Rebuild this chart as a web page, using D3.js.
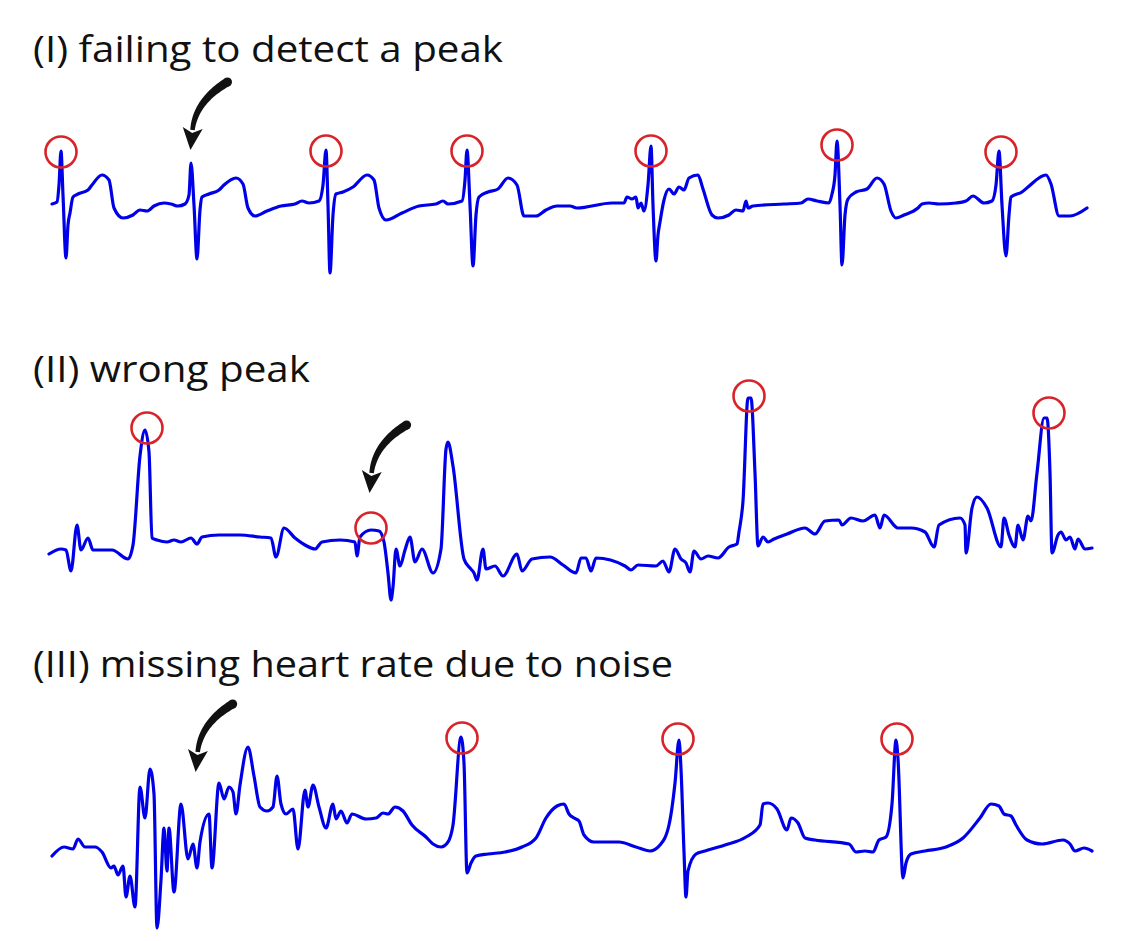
<!DOCTYPE html>
<html>
<head>
<meta charset="utf-8">
<script src="https://cdn.jsdelivr.net/npm/d3@7"></script>
<style>
  html, body { margin: 0; padding: 0; background: #ffffff; }
  svg { display: block; }
</style>
</head>
<body>
<svg id="chart" width="1130" height="941"></svg>
<script>
// ---------------- DATA ----------------
const titles = [
  "(I) failing to detect a peak",
  "(II) wrong peak",
  "(III) missing heart rate due to noise"
];

// Panel I: time (sample units) and amplitude
const ecgI_t = [52,57,59,61,63,66,68,70,73,78,88,92,102,109,114,123,133,140,147,154,164,171,178,185,189,191,194,197,200,202,209,219,224,236,243,248,255,267,281,295,302,309,319,323,326,328,330,333,336,343,353,367,374,379,386,402,419,436,443,448,462,465,467,470,473,476,479,488,498,508,517,524,536,546,557,570,577,612,624,627,632,636,638,641,644,648,651,653,656,658,660,664,669,674,679,684,689,698,703,712,718,729,736,743,746,748,753,784,801,808,817,829,832,835,837,840,842,845,848,856,867,877,884,891,896,904,918,922,929,939,956,966,973,984,992,996,999,1002,1006,1009,1011,1022,1028,1046,1051,1059,1070,1087];
const ecgI_v = [1,3,20,54,10,-53,-20,-8,8,11,15,20,30,25,-3,-13,-10,-5,-6,-1,2,1,-1,1,10,42,0,-54,-5,8,11,15,20,27,21,-3,-11,-6,-1,1,4,2,4,20,55,0,-68,-10,11,13,18,30,25,-3,-15,-8,-1,1,4,1,4,25,55,0,-61,-10,8,13,16,27,20,-11,-11,-5,-1,-1,-3,2,2,8,6,8,-3,2,-6,20,59,0,-56,-30,-17,5,16,11,18,15,27,30,16,-10,-13,-10,-5,-6,4,-3,-1,1,2,6,4,2,11,30,64,0,-60,-10,6,13,16,27,21,-6,-13,-10,-3,1,2,1,2,4,9,2,4,20,54,0,-51,-10,8,13,18,30,21,-11,-11,-3];
const peaksI_t = [61,326,467,651,837,1001];
const peaksI_v = [53,54,54,54,60,53];

// Panel II
const ecgII_t = [49,61,66,71,77,81,88,93,112,128,133,140,145,149,152,157,167,174,181,191,197,202,219,240,260,271,276,284,295,305,315,322,340,355,357,360,371,379,384,388,391,393,396,400,405,410,415,422,433,441,446,448,453,464,470,474,477,483,486,495,503,517,522,532,550,563,576,581,586,591,596,625,631,638,656,663,669,675,681,686,690,694,701,708,718,729,737,739,743,748,751,755,758,763,768,774,787,805,815,825,839,842,851,863,875,880,884,898,911,925,934,939,960,965,966,972,977,987,1001,1004,1009,1015,1018,1023,1028,1031,1037,1044,1047,1050,1052,1058,1061,1066,1070,1075,1078,1085,1092];
const ecgII_v = [-4,1,0,-21,25,0,12,0,0,-9,5,94,120,98,12,10,8,10,8,12,6,13,15,15,13,12,-7,22,12,5,1,8,10,8,-6,13,20,19,8,-23,-50,-37,1,-16,0,13,-12,1,-23,1,101,108,84,-9,-18,-23,-30,1,-19,-16,-26,-4,-21,-9,-7,-15,-23,-8,-8,-21,-8,-16,-20,-15,-16,-11,-22,1,-9,-13,-22,-1,-9,-6,-8,3,6,18,49,152,152,77,4,13,8,11,16,22,16,29,30,25,32,29,35,22,35,22,22,18,3,25,32,25,-3,42,53,42,3,32,15,3,25,10,34,29,77,132,132,77,-3,15,18,10,13,1,11,1,2];
const peaksII_t = [147,371,749,1049];
const peaksII_v = [122,22,154,137];

// Panel III
const ecgIII_t = [52,64,73,78,85,95,102,111,114,118,123,126,130,135,140,145,150,154,157,161,164,167,169,174,181,188,193,197,200,209,212,219,224,229,233,236,240,248,254,260,267,273,277,281,286,293,298,305,308,313,319,326,333,336,341,347,352,366,376,383,388,395,403,412,426,433,441,448,453,461,464,467,471,476,488,505,522,536,546,557,564,569,574,579,584,594,619,636,650,660,669,675,679,681,684,686,688,696,705,725,746,760,763,768,777,787,791,798,805,815,849,856,865,873,879,886,892,896,898,903,906,911,925,946,963,980,991,999,1004,1011,1016,1027,1042,1063,1070,1075,1084,1092];
const ecgIII_v = [-11,-2,-4,6,-2,-2,-7,-23,-21,-30,-21,-52,-31,-62,58,27,76,51,-83,-35,17,-26,17,-47,41,-14,1,-23,3,31,-23,62,46,58,53,31,60,98,69,38,34,38,69,41,31,36,-4,55,38,60,38,17,41,26,34,22,31,26,27,32,31,38,34,20,8,1,-2,3,20,108,82,-28,-18,-11,-9,-7,-2,7,27,39,41,31,27,24,10,3,3,-2,-6,0,20,62,105,76,-7,-52,-26,-9,-6,0,8,20,41,42,36,15,27,22,7,5,1,-7,-6,-7,5,8,41,105,86,-33,-18,-9,-6,-2,7,27,41,39,31,29,20,5,1,5,1,-6,-3,-6];
const peaksIII_t = [462,678,897];
const peaksIII_v = [107,106,106];

// arrows point at (panel, t, v) in data units
const arrowPanel = [0,1,2];
const arrowT = [191.5,370.6,196.7];
const arrowV = [56,58,74];

// ---------------- LAYOUT ----------------
const svg = d3.select("#chart");
svg.append("rect").attr("width",1130).attr("height",941).attr("fill","#ffffff");

const x = d3.scaleLinear().domain([0,1100]).range([0,1100]);
const panels = [
  {title: titles[0], base: 205, titleY: 62, titleW: 470, t: ecgI_t, v: ecgI_v, pt: peaksI_t, pv: peaksI_v},
  {title: titles[1], base: 550, titleY: 382, titleW: 277, t: ecgII_t, v: ecgII_v, pt: peaksII_t, pv: peaksII_v},
  {title: titles[2], base: 845, titleY: 677, titleW: 640, t: ecgIII_t, v: ecgIII_v, pt: peaksIII_t, pv: peaksIII_v}
];
panels.forEach(p => {
  p.y = d3.scaleLinear().domain([-100,100]).range([p.base+100, p.base-100]);
});

const BLUE = "#0000e8";
const RED = "#d8232a";

panels.forEach(p => {
  svg.append("text")
    .attr("x", 33).attr("y", p.titleY)
    .attr("font-family", "'Open Sans', 'Noto Sans', sans-serif")
    .attr("font-size", 36)
    .attr("fill", "#111")
    .attr("textLength", p.titleW)
    .attr("lengthAdjust", "spacingAndGlyphs")
    .text(p.title);

  const data = p.t.map((t,i) => [t, p.v[i]]);
  const line = d3.line().x(d => x(d[0])).y(d => p.y(d[1])).curve(d3.curveMonotoneX);
  svg.append("path")
    .attr("d", line(data))
    .attr("fill","none")
    .attr("stroke", BLUE)
    .attr("stroke-width", 3.2)
    .attr("stroke-linejoin","round")
    .attr("stroke-linecap","round");

  svg.append("g").selectAll("circle")
    .data(p.pt.map((t,i) => [t, p.pv[i]]))
    .join("circle")
    .attr("cx", d => x(d[0]))
    .attr("cy", d => p.y(d[1]))
    .attr("r", 15.5)
    .attr("fill","none")
    .attr("stroke", RED)
    .attr("stroke-width", 2.6);
});

// ---------------- ARROWS ----------------
function arrowShape(tx, ty) {
  const S = [tx+36, ty-67], C = [tx+4, ty-48], E = [tx+1, ty-19];
  const n = 40, left = [], right = [];
  for (let i = 0; i <= n; i++) {
    const t = i/n, u = 1-t;
    const px = u*u*S[0] + 2*u*t*C[0] + t*t*E[0];
    const py = u*u*S[1] + 2*u*t*C[1] + t*t*E[1];
    let dx = 2*u*(C[0]-S[0]) + 2*t*(E[0]-C[0]);
    let dy = 2*u*(C[1]-S[1]) + 2*t*(E[1]-C[1]);
    const L = Math.hypot(dx,dy); dx/=L; dy/=L;
    const w = (9 - 4.5*t)/2;
    left.push([px - dy*w, py + dx*w]);
    right.push([px + dy*w, py - dx*w]);
  }
  let d = "M" + left.map(q => q.join(",")).join("L") + "L" + right.reverse().map(q => q.join(",")).join("L") + "Z";
  let dx = E[0]-C[0], dy = E[1]-C[1];
  const L = Math.hypot(dx,dy); dx/=L; dy/=L;
  const hw = 10, hl = 20;
  const b1 = [E[0] - dy*hw - dx*2, E[1] + dx*hw - dy*2];
  const b2 = [E[0] + dy*hw - dx*2, E[1] - dx*hw - dy*2];
  const tip = [E[0] + dx*hl, E[1] + dy*hl];
  const mid = [E[0] + dx*3, E[1] + dy*3];
  d += `M${b1}L${mid}L${b2}L${tip}Z`;
  return {d, cap: S, capR: 4.5};
}

arrowPanel.forEach((pi, i) => {
  const p = panels[pi];
  const a = arrowShape(x(arrowT[i]), p.y(arrowV[i]));
  svg.append("path").attr("d", a.d).attr("fill", "#111");
  svg.append("circle").attr("cx", a.cap[0]).attr("cy", a.cap[1]).attr("r", a.capR).attr("fill", "#111");
});
</script>
</body>
</html>
